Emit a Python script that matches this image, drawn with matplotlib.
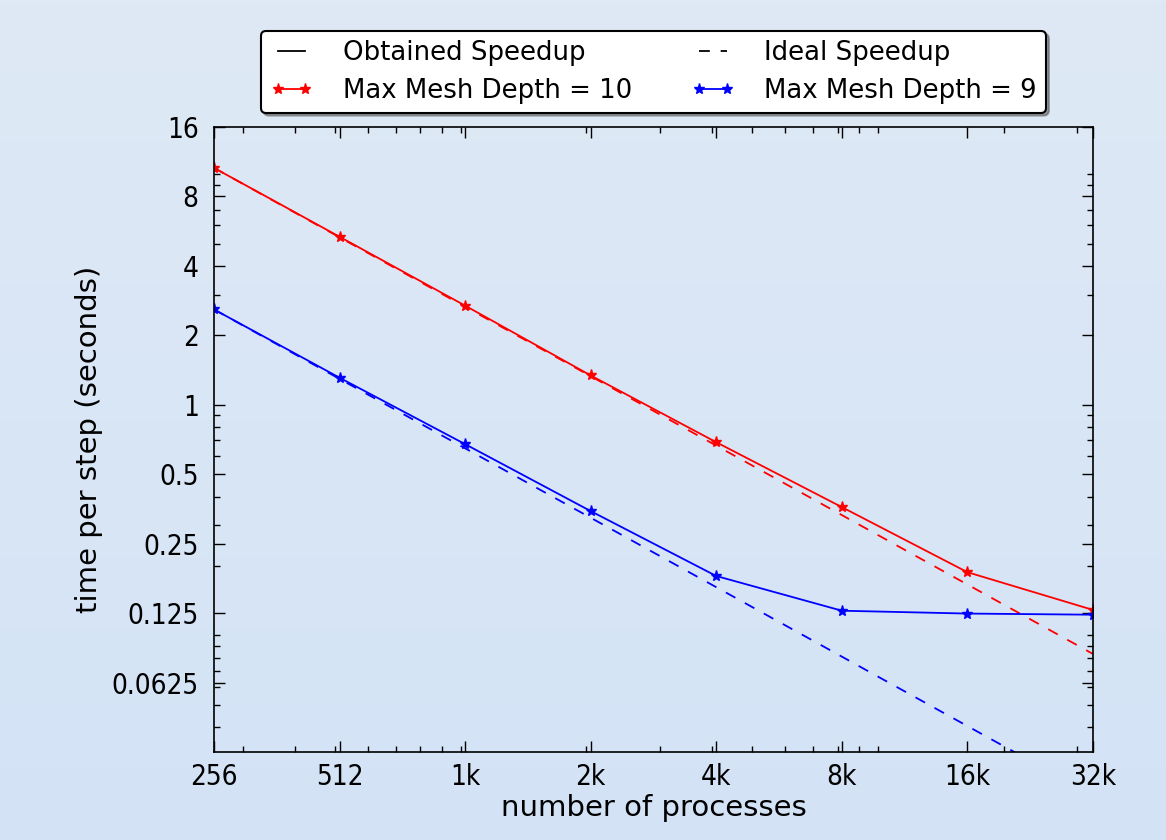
import matplotlib
matplotlib.use('Agg')
import matplotlib.pyplot as plt
import numpy as np
from matplotlib.ticker import LogLocator, NullFormatter, FixedLocator, FixedFormatter
from matplotlib.lines import Line2D

plt.rcParams['font.family'] = ['DejaVu Sans']

procs = [256, 512, 1024, 2048, 4096, 8192, 16384, 32768]
xlabels = ['256', '512', '1k', '2k', '4k', '8k', '16k', '32k']
time_d10 = [10.64, 5.35, 2.69, 1.34, 0.688, 0.360, 0.188, 0.129]
time_d9 = [2.59, 1.31, 0.675, 0.346, 0.181, 0.128, 0.1244, 0.123]
yticks = [0.0625, 0.125, 0.25, 0.5, 1, 2, 4, 8, 16]
ylabels = ['0.0625', '0.125', '0.25', '0.5', '1', '2', '4', '8', '16']

procs = np.array(procs)
# ideal speedup: first time scaled by process count
ideal_d10 = time_d10[0] * procs[0] / procs
ideal_d9 = time_d9[0] * procs[0] / procs

fig = plt.figure(figsize=(11.66, 8.4), dpi=100)

# background gradient
bg = fig.add_axes([0, 0, 1, 1], zorder=-10)
grad = np.linspace(0, 1, 256).reshape(-1, 1)
c_top = np.array([223, 233, 246]) / 255.0
c_bot = np.array([211, 227, 245]) / 255.0
img = c_top + grad[..., None] * (c_bot - c_top)
bg.imshow(img, aspect='auto', extent=[0, 1, 0, 1])
bg.axis('off')

ax = fig.add_axes([0.1835, 0.1048, 0.7539, 0.744])
ax.patch.set_alpha(0)

ax.plot(procs, time_d10, '-', color='red', marker='*', markersize=8, lw=1.3)
ax.plot(procs, ideal_d10, '--', color='red', lw=1.3, dashes=(6, 6))
ax.plot(procs, time_d9, '-', color='blue', marker='*', markersize=8, lw=1.3)
ax.plot(procs, ideal_d9, '--', color='blue', lw=1.3, dashes=(6, 6))

ax.set_xscale('log', base=2)
ax.set_yscale('log', base=2)
ax.set_xlim(256, 32768)
ax.set_ylim(1 / 32, 16)

ax.xaxis.set_major_locator(FixedLocator(procs))
ax.xaxis.set_major_formatter(FixedFormatter(xlabels))
ax.xaxis.set_minor_locator(LogLocator(base=10, subs=np.arange(1, 10)))
ax.xaxis.set_minor_formatter(NullFormatter())
ax.yaxis.set_major_locator(FixedLocator(yticks))
ax.yaxis.set_major_formatter(FixedFormatter(ylabels))
ax.yaxis.set_minor_locator(LogLocator(base=10, subs=np.arange(1, 10)))
ax.yaxis.set_minor_formatter(NullFormatter())

ax.tick_params(which='both', direction='in', top=True, right=True, width=1)
ax.tick_params(which='major', length=8, pad=8)
ax.tick_params(axis='y', which='major', pad=11)
ax.tick_params(which='minor', length=4)
for lab in ax.get_xticklabels() + ax.get_yticklabels():
    lab.set_fontsize(20)
    lab.set_fontstretch('condensed')
for s in ax.spines.values():
    s.set_linewidth(1.2)

ax.set_xlabel('number of processes', fontsize=21, labelpad=2)
ax.set_ylabel('time per step (seconds)', fontsize=21, labelpad=6)

handles = [
    Line2D([], [], color='black', lw=1.3),
    Line2D([], [], color='red', lw=1.3, marker='*', markersize=8),
    Line2D([], [], color='black', lw=1.3, ls='--', dashes=(6, 6)),
    Line2D([], [], color='blue', lw=1.3, marker='*', markersize=8),
]
names = ['Obtained Speedup', 'Max Mesh Depth = 10', 'Ideal Speedup', 'Max Mesh Depth = 9']
leg = ax.legend(handles, names, ncol=2, loc='lower center', bbox_to_anchor=(0.5, 1.002),
                fontsize=18.7, numpoints=2, fancybox=True, shadow=True, framealpha=1,
                edgecolor='black', columnspacing=2.3, handlelength=1.65, borderpad=0.35,
                labelspacing=0.45, handletextpad=1.15)
leg.get_frame().set_linewidth(1.5)

fig.savefig('out.png', dpi=100)
